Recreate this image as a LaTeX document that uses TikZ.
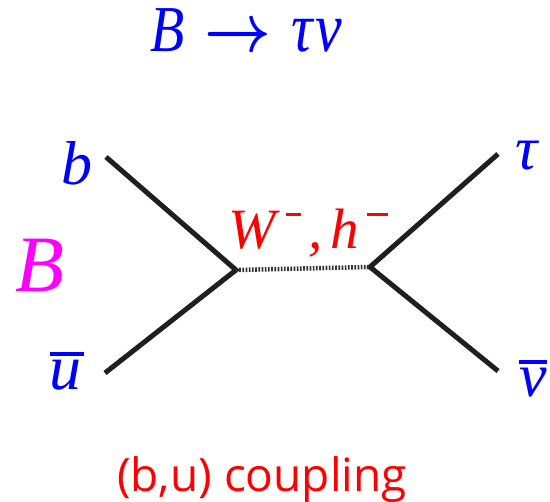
\documentclass[tikz,border=0pt]{standalone}
\usepackage{fontspec}
\newfontfamily\tms{Liberation Serif}
\newfontfamily\osans{Open Sans}
\definecolor{pblue}{RGB}{0,0,255}
\definecolor{pmag}{RGB}{255,0,255}
\definecolor{pred}{RGB}{255,0,0}
\newcommand{\barred}[1]{\vbox{\hrule height 3.5pt\kern 5pt\hbox{#1}}}
\newcommand{\supminus}[1]{\rule[33pt]{#1}{2.5pt}}
\begin{document}
\begin{tikzpicture}[x=1pt,y=-1pt,
  lbl/.style={inner sep=0pt,anchor=base,font=\tms\itshape\fontsize{60}{62}\selectfont,text=pblue},
  fermion/.style={line width=5pt,draw=black!88},
  prop/.style={line width=4.5pt,draw=black!80,dash pattern=on 1.7pt off 1.5pt}]
\useasboundingbox (0,0) rectangle (550,502);
\node[lbl,anchor=base west,font=\tms\itshape\fontsize{56}{58}\selectfont] (title) at (150,52)
  {\scalebox{1}[1.17]{B\kern20pt\scalebox{5.8}{\fontsize{10}{12}\selectfont\mathversion{bold}$\rightarrow$}\kern20pt\fontsize{60}{62}\selectfont τ\kern3ptν}};
\node[lbl,font=\tms\itshape\fontsize{62}{64}\selectfont] (b) at (77,185) {b};
\node[lbl,font=\tms\itshape\fontsize{80}{82}\selectfont,text=pmag] (B) at (40,292) {B};
\node[lbl,font=\tms\itshape\fontsize{64}{66}\selectfont] (u) at (67,390) {\barred{u\kern3pt}};
\node[lbl,font=\tms\itshape\fontsize{62}{64}\selectfont] (tau) at (527,170) {τ};
\node[lbl,font=\tms\itshape\fontsize{62}{64}\selectfont] (nu) at (533,397) {\barred{ν}};
\node[lbl,anchor=base west,font=\tms\itshape\fontsize{57}{58}\selectfont,text=pred] (W) at (228,249)
  {W\kern10pt\supminus{15pt}\kern8pt,\kern8pt h\kern8pt\supminus{21pt}};
\node[inner sep=0pt,anchor=base,font=\osans\fontsize{46}{50}\selectfont,text=pred] (coup) at (262,492) {(b,u) coupling};
\coordinate (v1) at (236,270);
\coordinate (v2) at (370,267);
\coordinate (eb) at (106,157);
\coordinate (eu) at (105,373);
\coordinate (et) at (498,154);
\coordinate (en) at (498,371);
\draw[fermion] (eb) -- (v1) -- (eu);
\draw[fermion] (et) -- (v2) -- (en);
\draw[prop] (v1) -- (v2);
\end{tikzpicture}
\end{document}
